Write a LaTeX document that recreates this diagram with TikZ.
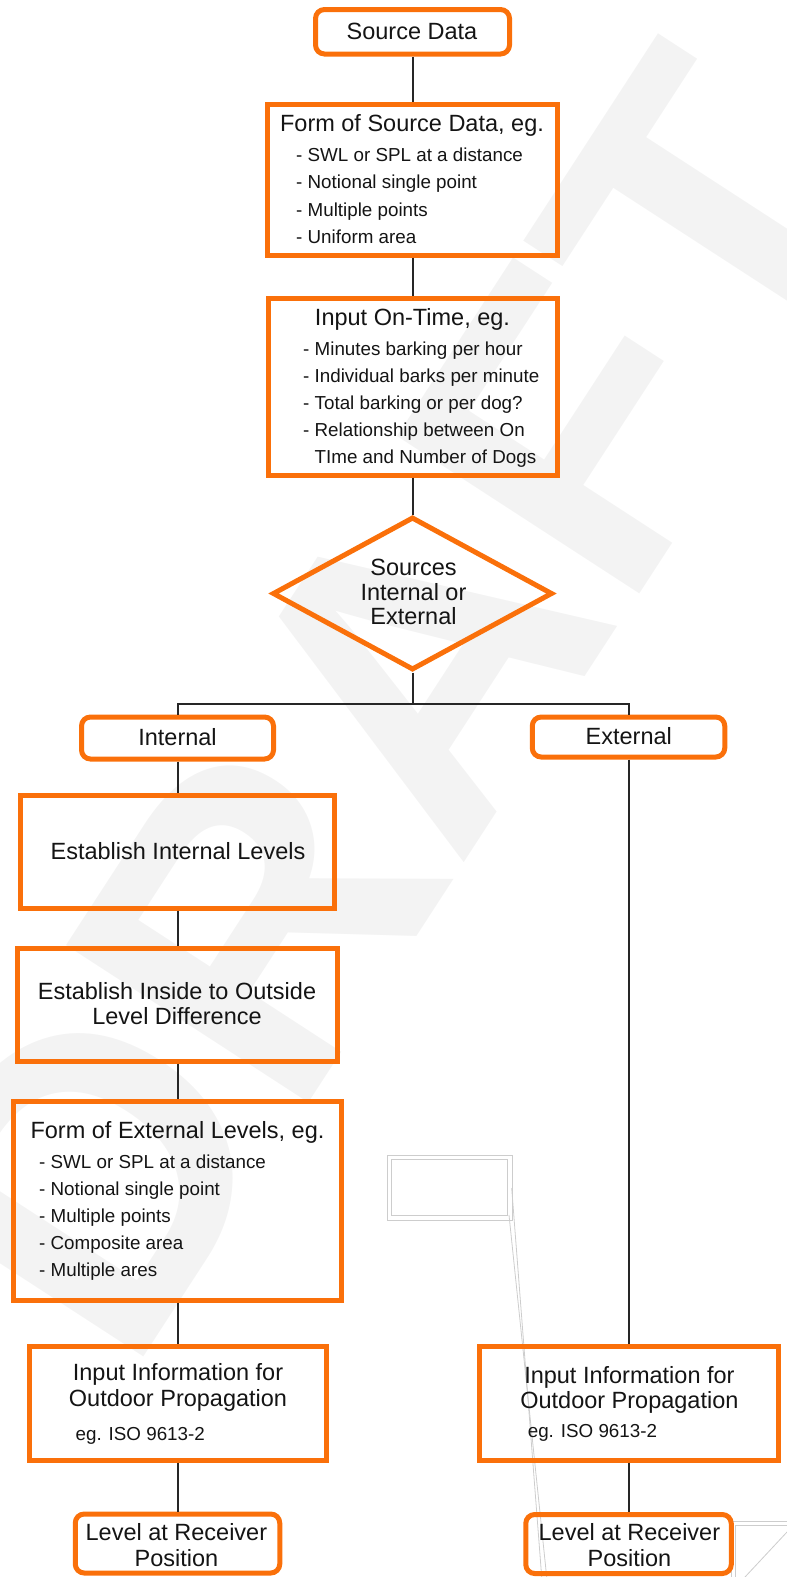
\documentclass[tikz,border=0pt]{standalone}
\usepackage{fontspec}
\setmainfont{Liberation Sans}
\usetikzlibrary{shapes.geometric}
\definecolor{boxorange}{RGB}{250,112,10}
\definecolor{linegray}{RGB}{38,38,38}
\definecolor{textgray}{RGB}{20,20,20}
\definecolor{wmgray}{RGB}{243,243,243}
\definecolor{ghostgray}{RGB}{205,205,205}

\begin{document}
\begin{tikzpicture}[x=1pt,y=-1pt,
  flowbox/.style={draw=boxorange,line width=5pt,inner sep=0pt},
  roundbox/.style={flowbox,rounded corners=9pt},
  choice/.style={flowbox,diamond,aspect=1.83},
  link/.style={draw=linegray,line width=2pt},
  ttl/.style={font=\fontsize{23.5}{24}\selectfont,text=textgray,inner sep=0pt,anchor=base},
  itm/.style={font=\fontsize{18.8}{24}\selectfont,text=textgray,inner sep=0pt,anchor=base west},
  ghost/.style={draw=ghostgray,line width=0.8pt}]
\useasboundingbox (0,0) rectangle (787,1577);
\clip (0,0) rectangle (787,1577);
% watermark
\node[rotate=57,text=wmgray,font=\fontsize{420}{420}\selectfont\bfseries] (wm) at (395,705) {DRAFT};
% stray frames
\draw[ghost] (387.3,1155) rectangle (512.7,1220);
\draw[ghost] (391,1159.3) rectangle (507.7,1215.3);
\draw[ghost] (511.7,1188) -- (541.7,1577);
\draw[ghost] (509,1215) -- (546.7,1577);
\draw[ghost] (731,1577) -- (731,1521) -- (787,1521);
\draw[ghost] (735,1577) -- (735,1525) -- (787,1525);
\draw[ghost] (787,1532) -- (745,1577);
% centre column
\node[roundbox,minimum width=194pt,minimum height=44.5pt] (src) at (412.5,31.75) {};
\node[ttl] (srcT) at (412,39.3) {Source Data};
\node[flowbox,minimum width=289.5pt,minimum height=151pt] (srcform) at (412.5,179.5) {};
\node[ttl] (srcformT) at (412,131) {Form of Source Data, eg.};
\foreach \t [count=\i] in {SWL or SPL at a distance,Notional single point,Multiple points,Uniform area}
  \node[itm] (srcform\i) at (296,{161.7+27.2*(\i-1)}) {- \t};
\node[flowbox,minimum width=289pt,minimum height=176.5pt] (ontime) at (412.5,386.75) {};
\node[ttl] (ontimeT) at (412.5,325) {Input On-Time, eg.};
\foreach \t [count=\i] in {- Minutes barking per hour,- Individual barks per minute,- Total barking or per dog?,- Relationship between On,\phantom{- }TIme and Number of Dogs}
  \node[itm] (ontime\i) at (303,{355+27.1*(\i-1)}) {\t};
\node[choice,minimum width=280pt,minimum height=153pt] (decide) at (412.5,593.5) {};
\node[ttl] (decide1) at (413.5,575.7) {Sources};
\node[ttl] (decide2) at (413.5,600.7) {Internal or};
\node[ttl] (decide3) at (413.5,624.5) {External};
\coordinate (fork) at (412.5,704);
% internal column
\node[roundbox,minimum width=192pt,minimum height=42pt] (int) at (177.5,738) {};
\node[ttl] (intT) at (177.5,745.7) {Internal};
\node[flowbox,minimum width=313.5pt,minimum height=113pt] (intlev) at (177.5,851.5) {};
\node[ttl] (intlevT) at (178,859) {Establish Internal Levels};
\node[flowbox,minimum width=320pt,minimum height=113pt] (inout) at (177.5,1004.5) {};
\node[ttl] (inout1) at (177,999.3) {Establish Inside to Outside};
\node[ttl] (inout2) at (177,1024.3) {Level Difference};
\node[flowbox,minimum width=328.5pt,minimum height=199pt] (extform) at (177.5,1200.5) {};
\node[ttl] (extformT) at (177.5,1138.7) {Form of External Levels, eg.};
\foreach \t [count=\i] in {SWL or SPL at a distance,Notional single point,Multiple points,Composite area,Multiple ares}
  \node[itm] (extform\i) at (39,{1168.3+27.1*(\i-1)}) {- \t};
\node[flowbox,minimum width=297pt,minimum height=114pt] (propL) at (177.5,1403) {};
\node[ttl] (propL1) at (178,1380.7) {Input Information for};
\node[ttl] (propL2) at (178,1406.7) {Outdoor Propagation};
\node[itm] (propL3) at (75.4,1440) {eg. ISO 9613-2};
\node[roundbox,minimum width=204.5pt,minimum height=59pt] (levL) at (177.5,1543.5) {};
\node[ttl] (levL1) at (176.4,1540.7) {Level at Receiver};
\node[ttl] (levL2) at (176.4,1566) {Position};
% external column
\node[roundbox,minimum width=192.5pt,minimum height=40pt] (ext) at (628.5,737) {};
\node[ttl] (extT) at (628.75,744.6) {External};
\node[flowbox,minimum width=299pt,minimum height=114pt] (propR) at (628.5,1403) {};
\node[ttl] (propR1) at (629.4,1383.3) {Input Information for};
\node[ttl] (propR2) at (629.4,1408.3) {Outdoor Propagation};
\node[itm] (propR3) at (527.6,1437.7) {eg. ISO 9613-2};
\node[roundbox,minimum width=205.5pt,minimum height=59pt] (levR) at (628.5,1544) {};
\node[ttl] (levR1) at (629.4,1540.7) {Level at Receiver};
\node[ttl] (levR2) at (629.4,1566) {Position};
% connectors
\draw[link] (src.south) -- (srcform.north);
\draw[link] (srcform.south) -- (ontime.north);
\draw[link] (ontime.south) -- (decide.north);
\draw[link] (decide.south) -- (fork);
\draw[link] (int.north) |- (fork) -| (ext.north);
\draw[link] (int.south) -- (intlev.north);
\draw[link] (intlev.south) -- (inout.north);
\draw[link] (inout.south) -- (extform.north);
\draw[link] (extform.south) -- (propL.north);
\draw[link] (propL.south) -- (levL.north);
\draw[link] (ext.south) -- (propR.north);
\draw[link] (propR.south) -- (levR.north);
\end{tikzpicture}
\end{document}
